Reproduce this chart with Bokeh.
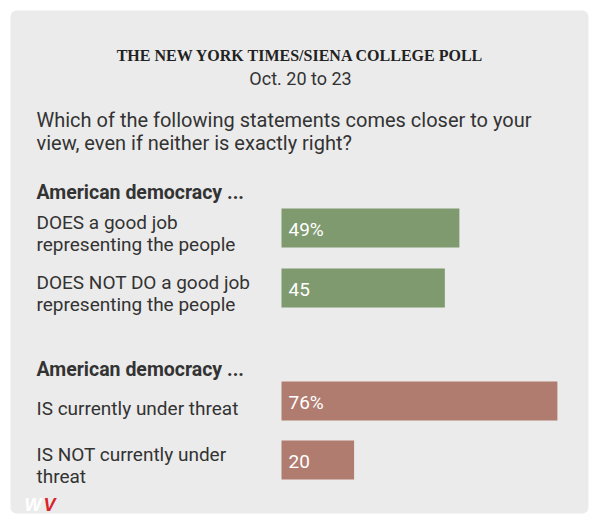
from bokeh.plotting import figure
from bokeh.models import Range1d, BoxAnnotation, Label, ColumnDataSource
from bokeh.embed import file_html
from bokeh.resources import INLINE

# ---- data ----
title = "THE NEW YORK TIMES/SIENA COLLEGE POLL"
subtitle = "Oct. 20 to 23"
question = ["Which of the following statements comes closer to your",
            "view, even if neither is exactly right?"]
group_titles = ["American democracy ...", "American democracy ..."]
labels_g1 = [["DOES a good job", "representing the people"],
             ["DOES NOT DO a good job", "representing the people"]]
values_g1 = [49, 45]
value_text_g1 = ["49%", "45"]
labels_g2 = [["IS currently under threat"],
             ["IS NOT currently under", "threat"]]
values_g2 = [76, 20]
value_text_g2 = ["76%", "20"]

# ---- layout / style ----
W, H = 592, 516
BAR_X0 = 281          # pixel where bars start
PX_PER_PCT = 3.63
BAR_H = 39
SANS = "Roboto"
SERIF = "Liberation Serif"
TXT = "#333333"
GREEN = "#7f9a6f"
RED = "#b17c70"
CARD = "#ebebeb"

p = figure(width=W, height=H, output_backend="svg", toolbar_location=None,
           x_range=Range1d(0, W), y_range=Range1d(H, 0),
           x_axis_location=None, y_axis_location=None, min_border=0,
           outline_line_color=None, background_fill_color="white",
           border_fill_color="white")
p.grid.visible = False
p.extra_x_ranges = {"pct": Range1d(-BAR_X0 / PX_PER_PCT, (W - BAR_X0) / PX_PER_PCT)}

p.add_layout(BoxAnnotation(left=10, right=588, top=10, bottom=513, fill_color=CARD,
                           fill_alpha=1, line_color=None, border_radius=6, level="underlay"))

def lab(x, y, text, size, font=SANS, style="normal", color=TXT, align="left", baseline="alphabetic"):
    p.add_layout(Label(x=x, y=y, text=text, text_font=font, text_font_size=f"{size}px",
                       text_font_style=style, text_color=color, text_align=align,
                       text_baseline=baseline))

lab(300, 55, title, 16, font=SERIF, style="bold", color="#222222", align="center")
lab(300, 77.5, subtitle, 18, align="center")
lab(36, 119, question[0], 20)
lab(36, 142, question[1], 20)

LX = 36
# group 1
lab(LX, 192, group_titles[0], 19.5, style="bold")
centers1 = [227.5, 287.5]
for c, lines in zip(centers1, labels_g1):
    lab(LX, c - 6, lines[0], 19)
    lab(LX, c + 16, lines[1], 19)
# group 2
lab(LX, 368.5, group_titles[1], 19.5, style="bold")
centers2 = [400.5, 459.5]
lab(LX, centers2[0] + 7.5, labels_g2[0][0], 19)
lab(LX, centers2[1] - 6, labels_g2[1][0], 19)
lab(LX, centers2[1] + 16, labels_g2[1][1], 19)

src = ColumnDataSource(dict(
    y=centers1 + centers2,
    v=values_g1 + values_g2,
    t=value_text_g1 + value_text_g2,
    c=[GREEN] * len(values_g1) + [RED] * len(values_g2),
))
p.hbar(y="y", left=0, right="v", height=BAR_H, fill_color="c", line_color=None,
       source=src, x_range_name="pct")
p.text(x=0, y="y", text="t", source=src, x_range_name="pct", x_offset=7, y_offset=1,
       text_color="white", text_font_size="19px", text_baseline="middle",
       text_font={"value": SANS})

# watermark
lab(24, 504, "W", 18, font="Liberation Sans", style="bold italic", color="white")
lab(43, 504, "V", 18, font="Liberation Sans", style="bold italic", color="#d9232a")

open("out.html", "w").write(file_html(p, INLINE))
